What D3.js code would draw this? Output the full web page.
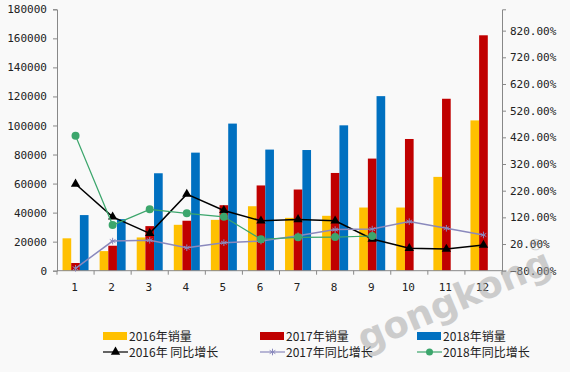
<!DOCTYPE html>
<html>
<head>
<meta charset="utf-8">
<script src="https://cdn.jsdelivr.net/npm/d3@7"></script>
<style>
  body { margin: 0; background: #f9f9f9; }
  #chart svg { display: block; }
</style>
</head>
<body>
<div id="chart"></div>
<script>
// data
var months = ["1","2","3","4","5","6","7","8","9","10","11","12"]
var sales2016 = [22300, 13500, 22900, 31600, 35000, 44400, 36400, 37800, 43500, 43500, 64600, 103500]
var sales2017 = [5300, 17200, 30700, 34400, 45100, 58700, 55900, 67300, 77200, 90700, 118400, 162100]
var sales2018 = [38300, 35500, 67100, 81300, 101300, 83400, 83100, 100100, 120200, null, null, null]
var growth2016 = [2.45, 1.22, 0.60, 2.07, 1.46, 1.07, 1.12, 1.07, 0.39, 0.04, 0.01, 0.16]
var growth2017 = [-0.71, 0.31, 0.34, 0.06, 0.25, 0.31, 0.51, 0.74, 0.76, 1.04, 0.79, 0.54]
var growth2018 = [4.26, 0.91, 1.50, 1.35, 1.22, 0.38, 0.45, 0.46, 0.50, null, null, null]
var leftTicks = [0, 20000, 40000, 60000, 80000, 100000, 120000, 140000, 160000, 180000]
var rightTicks = [-0.8, 0.2, 1.2, 2.2, 3.2, 4.2, 5.2, 6.2, 7.2, 8.2]

var barNames = ["2016年销量", "2017年销量", "2018年销量"]
var lineNames = ["2016年 同比增长", "2017年同比增长", "2018年同比增长"]
var barColors = ["#ffc000", "#c00000", "#0070c0"]
var lineColors = ["#000000", "#8a89bd", "#3ca66c"]

var W = 570, H = 372
var margin = {top: 9.3, right: 68, bottom: 101.3, left: 57},
    width = W - margin.left - margin.right,
    height = H - margin.top - margin.bottom

var tickFont = "'DejaVu Sans Mono', monospace"
var cjkFont = "'Noto Sans CJK SC', sans-serif"

var root = d3.select("#chart")
  .append("svg")
    .attr("width", W)
    .attr("height", H)
root.append("rect").attr("width", W).attr("height", H).attr("fill", "#f9f9f9")

var svg = root.append("g")
    .attr("transform", "translate(" + margin.left + "," + margin.top + ")")

var x = d3.scaleBand()
  .range([0, width])
  .domain(months)

var xs = d3.scaleBand()
  .domain([0, 1, 2])
  .range([x.bandwidth()/2 - 13, x.bandwidth()/2 + 13])

var y = d3.scaleLinear()
  .range([height, 0])
  .domain([0, 180000])

var y2 = d3.scaleLinear()
  .range([height, 0])
  .domain([-0.8, 9.0])

// bars
var series = [sales2016, sales2017, sales2018]
series.forEach(function(vals, s) {
  svg.selectAll(".bar" + s)
    .data(vals.map(function(v, i) { return {m: months[i], v: v} }).filter(function(d) { return d.v != null }))
    .enter()
    .append("rect")
    .attr("x", function(d) { return x(d.m) + xs(s) })
    .attr("y", function(d) { return y(d.v) })
    .attr("width", xs.bandwidth())
    .attr("height", function(d) { return height - y(d.v) })
    .attr("fill", barColors[s])
})

// axes
var xAxis = svg.append("g")
  .attr("transform", "translate(0," + height + ")")
xAxis.append("line").attr("x1", 0).attr("x2", width).attr("stroke", "#888")
xAxis.selectAll("line.tk")
  .data(d3.range(months.length + 1))
  .enter().append("line")
  .attr("x1", function(i) { return i * x.step() })
  .attr("x2", function(i) { return i * x.step() })
  .attr("y1", 0).attr("y2", 4)
  .attr("stroke", "#888")
xAxis.selectAll("text")
  .data(months)
  .enter().append("text")
  .attr("x", function(d) { return x(d) + x.bandwidth()/2 - 1 })
  .attr("y", 20)
  .attr("text-anchor", "middle")
  .style("font", "11px " + tickFont)
  .attr("fill", "#222")
  .text(function(d) { return d })

var yAxisL = svg.append("g")
  .call(d3.axisLeft(y).tickValues(leftTicks).tickFormat(d3.format("d")).tickSize(4).tickPadding(6))
yAxisL.select(".domain").attr("stroke", "#888")
yAxisL.selectAll(".tick line").attr("stroke", "#888")
yAxisL.selectAll("text").style("font", "11px " + tickFont).attr("fill", "#222")

var yAxisR = svg.append("g")
  .attr("transform", "translate(" + width + ",0)")
  .call(d3.axisRight(y2).tickValues(rightTicks).tickFormat(d3.format(".2%")).tickSize(4).tickPadding(4))
yAxisR.select(".domain").attr("stroke", "#888")
yAxisR.selectAll(".tick line").attr("stroke", "#888")
yAxisR.selectAll("text").style("font", "11px " + tickFont).attr("fill", "#222")

// growth lines
var lines = [growth2016, growth2017, growth2018]
var line = d3.line()
  .defined(function(d) { return d.v != null })
  .x(function(d) { return x(d.m) + x.bandwidth()/2 })
  .y(function(d) { return y2(d.v) })

var tri = d3.symbol().type(d3.symbolTriangle).size(38)
var star = d3.symbol().type(d3.symbolAsterisk || d3.symbolCross).size(30)

lines.forEach(function(vals, s) {
  var pts = vals.map(function(v, i) { return {m: months[i], v: v} })
  svg.append("path")
    .datum(pts)
    .attr("d", line)
    .attr("fill", "none")
    .attr("stroke", lineColors[s])
    .attr("stroke-width", s == 2 ? 1.2 : 1.5)
  var g = svg.selectAll(".pt" + s)
    .data(pts.filter(function(d) { return d.v != null }))
    .enter()
  if (s == 0) {
    g.append("path")
      .attr("d", tri)
      .attr("transform", function(d) { return "translate(" + (x(d.m) + x.bandwidth()/2) + "," + y2(d.v) + ")" })
      .attr("fill", "#000")
  } else if (s == 1) {
    g.append("path")
      .attr("d", star)
      .attr("transform", function(d) { return "translate(" + (x(d.m) + x.bandwidth()/2) + "," + y2(d.v) + ")" })
      .attr("fill", "#a9a8d6")
      .attr("stroke", "#8a89bd")
      .attr("stroke-width", 1)
  } else {
    g.append("circle")
      .attr("cx", function(d) { return x(d.m) + x.bandwidth()/2 })
      .attr("cy", function(d) { return y2(d.v) })
      .attr("r", 4)
      .attr("fill", lineColors[2])
  }
})

// legend
var legX = [103, 260, 417]
var legend = root.append("g")
barNames.forEach(function(n, i) {
  legend.append("rect")
    .attr("x", legX[i]).attr("y", 332).attr("width", 24).attr("height", 8)
    .attr("fill", barColors[i])
  legend.append("text")
    .attr("x", legX[i] + 26).attr("y", 341)
    .style("font", "12px " + cjkFont).attr("fill", "#222")
    .text(n)
})
lineNames.forEach(function(n, i) {
  var cy = 352
  legend.append("line")
    .attr("x1", legX[i]).attr("x2", legX[i] + 25).attr("y1", cy).attr("y2", cy)
    .attr("stroke", lineColors[i]).attr("stroke-width", 1.2)
  var cx = legX[i] + 12.5
  if (i == 0) legend.append("path").attr("d", tri).attr("transform", "translate(" + cx + "," + cy + ")").attr("fill", "#000")
  if (i == 1) legend.append("path").attr("d", star).attr("transform", "translate(" + cx + "," + cy + ")").attr("fill", "#a9a8d6").attr("stroke", "#8a89bd")
  if (i == 2) legend.append("circle").attr("cx", cx).attr("cy", cy).attr("r", 3.5).attr("fill", lineColors[2])
  legend.append("text")
    .attr("x", legX[i] + 26).attr("y", 357)
    .style("font", "12px " + cjkFont).attr("fill", "#222")
    .text(n)
})

// watermark
var wm = root.append("g")
  .attr("transform", "translate(364,352) rotate(-23)")
  .attr("opacity", 0.55)
wm.append("text")
  .style("font", "bold 37px 'DejaVu Sans', sans-serif")
  .attr("fill", "#a8a8a8")
  .text("gongkong")
wm.append("text")
  .attr("x", 192).attr("y", -26)
  .style("font", "16px 'DejaVu Sans', sans-serif")
  .attr("fill", "#a8a8a8")
  .text("®")
</script>
</body>
</html>
